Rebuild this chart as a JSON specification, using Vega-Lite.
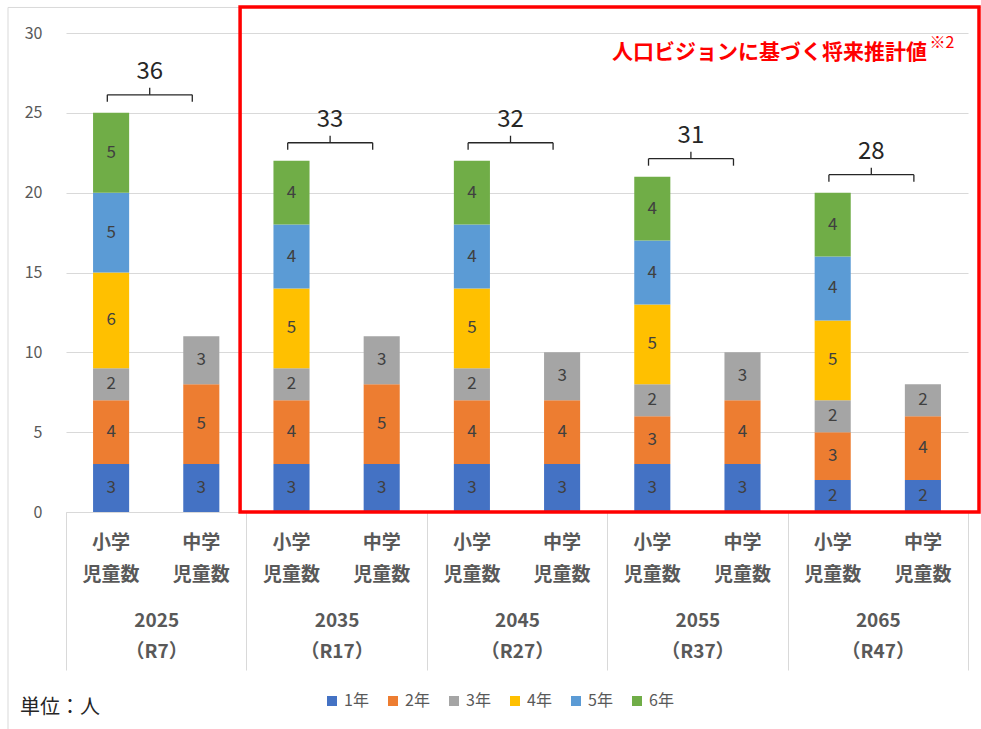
{
  "$schema": "https://vega.github.io/schema/vega-lite/v6.json",
  "autosize": "none",
  "width": 902,
  "height": 479,
  "padding": {"left": 66, "top": 33, "right": 13, "bottom": 217},
  "background": "white",
  "config": {"view": {"stroke": null}, "font": "Noto Sans CJK JP"},
  "datasets": {
    "main": [
      {"year": "2025", "school": "小学", "grade": "1年", "n": 3},
      {"year": "2025", "school": "小学", "grade": "2年", "n": 4},
      {"year": "2025", "school": "小学", "grade": "3年", "n": 2},
      {"year": "2025", "school": "小学", "grade": "4年", "n": 6},
      {"year": "2025", "school": "小学", "grade": "5年", "n": 5},
      {"year": "2025", "school": "小学", "grade": "6年", "n": 5},
      {"year": "2025", "school": "中学", "grade": "1年", "n": 3},
      {"year": "2025", "school": "中学", "grade": "2年", "n": 5},
      {"year": "2025", "school": "中学", "grade": "3年", "n": 3},
      {"year": "2035", "school": "小学", "grade": "1年", "n": 3},
      {"year": "2035", "school": "小学", "grade": "2年", "n": 4},
      {"year": "2035", "school": "小学", "grade": "3年", "n": 2},
      {"year": "2035", "school": "小学", "grade": "4年", "n": 5},
      {"year": "2035", "school": "小学", "grade": "5年", "n": 4},
      {"year": "2035", "school": "小学", "grade": "6年", "n": 4},
      {"year": "2035", "school": "中学", "grade": "1年", "n": 3},
      {"year": "2035", "school": "中学", "grade": "2年", "n": 5},
      {"year": "2035", "school": "中学", "grade": "3年", "n": 3},
      {"year": "2045", "school": "小学", "grade": "1年", "n": 3},
      {"year": "2045", "school": "小学", "grade": "2年", "n": 4},
      {"year": "2045", "school": "小学", "grade": "3年", "n": 2},
      {"year": "2045", "school": "小学", "grade": "4年", "n": 5},
      {"year": "2045", "school": "小学", "grade": "5年", "n": 4},
      {"year": "2045", "school": "小学", "grade": "6年", "n": 4},
      {"year": "2045", "school": "中学", "grade": "1年", "n": 3},
      {"year": "2045", "school": "中学", "grade": "2年", "n": 4},
      {"year": "2045", "school": "中学", "grade": "3年", "n": 3},
      {"year": "2055", "school": "小学", "grade": "1年", "n": 3},
      {"year": "2055", "school": "小学", "grade": "2年", "n": 3},
      {"year": "2055", "school": "小学", "grade": "3年", "n": 2},
      {"year": "2055", "school": "小学", "grade": "4年", "n": 5},
      {"year": "2055", "school": "小学", "grade": "5年", "n": 4},
      {"year": "2055", "school": "小学", "grade": "6年", "n": 4},
      {"year": "2055", "school": "中学", "grade": "1年", "n": 3},
      {"year": "2055", "school": "中学", "grade": "2年", "n": 4},
      {"year": "2055", "school": "中学", "grade": "3年", "n": 3},
      {"year": "2065", "school": "小学", "grade": "1年", "n": 2},
      {"year": "2065", "school": "小学", "grade": "2年", "n": 3},
      {"year": "2065", "school": "小学", "grade": "3年", "n": 2},
      {"year": "2065", "school": "小学", "grade": "4年", "n": 5},
      {"year": "2065", "school": "小学", "grade": "5年", "n": 4},
      {"year": "2065", "school": "小学", "grade": "6年", "n": 4},
      {"year": "2065", "school": "中学", "grade": "1年", "n": 2},
      {"year": "2065", "school": "中学", "grade": "2年", "n": 4},
      {"year": "2065", "school": "中学", "grade": "3年", "n": 2}
    ]
  },
  "layer": [
    {
      "data": {"name": "main"},
      "transform": [
        {"stack": "n", "groupby": ["year", "school"], "sort": [{"field": "grade", "order": "ascending"}], "as": ["s0", "s1"]}
      ],
      "mark": {"type": "bar"},
      "encoding": {
        "x": {
          "field": "year", "type": "nominal",
          "scale": {"type": "band", "domain": ["2025", "2035", "2045", "2055", "2065"], "paddingInner": 0, "paddingOuter": 0},
          "axis": {
            "title": null, "labelAngle": 0,
            "labelExpr": "datum.label ? [datum.label, '（R' + (toNumber(datum.label) - 2018) + '）'] : ''",
            "labelFontSize": 19, "labelFontWeight": "bold", "labelColor": "#595959",
            "labelLineHeight": 31, "labelBaseline": "middle", "labelPadding": -50,
            "tickSize": 158, "tickColor": "#d9d9d9", "tickBand": "extent",
            "domainColor": "#d9d9d9"
          }
        },
        "xOffset": {"field": "school", "type": "nominal", "scale": {"domain": ["小学", "中学"], "paddingInner": 0.6, "paddingOuter": 0.3}},
        "y": {
          "field": "s1", "type": "quantitative",
          "scale": {"domain": [0, 30], "nice": false},
          "axis": {"title": null, "values": [0, 5, 10, 15, 20, 25, 30], "domain": false, "ticks": false, "grid": true, "gridColor": "#d9d9d9", "labelFontSize": 16, "labelColor": "#595959", "labelPadding": 24}
        },
        "y2": {"field": "s0"},
        "color": {
          "field": "grade", "type": "nominal",
          "scale": {"domain": ["1年", "2年", "3年", "4年", "5年", "6年"], "range": ["#4472C4", "#ED7D31", "#A5A5A5", "#FFC000", "#5B9BD5", "#70AD47"]},
          "legend": {"title": null, "orient": "none", "legendX": 258, "legendY": 660, "direction": "horizontal", "symbolType": "square", "symbolSize": 100, "symbolStrokeWidth": 0, "labelFontSize": 16, "labelColor": "#595959", "columnPadding": 16, "labelOffset": 4}
        }
      }
    },
    {
      "data": {"name": "main"},
      "transform": [
        {"stack": "n", "groupby": ["year", "school"], "sort": [{"field": "grade", "order": "ascending"}], "as": ["s0", "s1"]},
        {"fold": ["s0", "s1"], "as": ["edge", "v"]},
        {"aggregate": [{"op": "mean", "field": "v", "as": "mid"}], "groupby": ["year", "school", "grade", "n"]}
      ],
      "mark": {"type": "text", "fontSize": 17, "color": "#404040", "baseline": "middle"},
      "encoding": {
        "x": {"field": "year", "type": "nominal"},
        "xOffset": {"field": "school", "type": "nominal"},
        "y": {"field": "mid", "type": "quantitative"},
        "text": {"field": "n", "type": "quantitative"}
      }
    },
    {
      "data": {"name": "main"},
      "transform": [
        {"aggregate": [{"op": "sum", "field": "n", "as": "s"}], "groupby": ["year", "school"]}
      ],
      "mark": {"type": "text", "text": {"expr": "[datum.school, '児童数']"}, "fontSize": 19, "fontWeight": "bold", "color": "#595959", "baseline": "middle", "lineHeight": 32, "dy": 31},
      "encoding": {
        "x": {"field": "year", "type": "nominal"},
        "xOffset": {"field": "school", "type": "nominal"},
        "y": {"datum": 0, "type": "quantitative"}
      }
    },
    {
      "data": {"name": "main"},
      "transform": [
        {"aggregate": [{"op": "sum", "field": "n", "as": "s"}], "groupby": ["year", "school"]},
        {"aggregate": [{"op": "max", "field": "s", "as": "top"}, {"op": "sum", "field": "s", "as": "total"}], "groupby": ["year"]}
      ],
      "layer": [
        {
          "mark": {"type": "rule", "color": "#262626", "strokeWidth": 1.3, "yOffset": -18},
          "encoding": {
            "x": {"field": "year", "type": "nominal", "bandPosition": 0.229},
            "x2": {"field": "year", "bandPosition": 0.7},
            "y": {"field": "top", "type": "quantitative"}
          }
        },
        {
          "mark": {"type": "rule", "color": "#262626", "strokeWidth": 1.3, "yOffset": -18, "y2Offset": -11},
          "encoding": {
            "x": {"field": "year", "type": "nominal", "bandPosition": 0.229},
            "y": {"field": "top", "type": "quantitative"},
            "y2": {"field": "top"}
          }
        },
        {
          "mark": {"type": "rule", "color": "#262626", "strokeWidth": 1.3, "yOffset": -18, "y2Offset": -11},
          "encoding": {
            "x": {"field": "year", "type": "nominal", "bandPosition": 0.7},
            "y": {"field": "top", "type": "quantitative"},
            "y2": {"field": "top"}
          }
        },
        {
          "mark": {"type": "rule", "color": "#262626", "strokeWidth": 1.3, "yOffset": -18, "y2Offset": -25},
          "encoding": {
            "x": {"field": "year", "type": "nominal", "bandPosition": 0.464},
            "y": {"field": "top", "type": "quantitative"},
            "y2": {"field": "top"}
          }
        },
        {
          "mark": {"type": "text", "fontSize": 24, "color": "#262626", "baseline": "middle", "dy": -41},
          "encoding": {
            "x": {"field": "year", "type": "nominal", "bandPosition": 0.464},
            "y": {"field": "top", "type": "quantitative"},
            "text": {"field": "total", "type": "quantitative"}
          }
        }
      ]
    },
    {
      "data": {"values": [{}]},
      "layer": [
        {
          "mark": {"type": "rect", "filled": false, "stroke": "#d9d9d9", "strokeWidth": 1},
          "encoding": {
            "x": {"datum": "2025", "type": "nominal", "bandPosition": -0.3215},
            "x2": {"datum": "2065", "bandPosition": 1.3},
            "y": {"datum": 31.6, "type": "quantitative"},
            "y2": {"datum": -14}
          }
        },
        {
          "mark": {"type": "rect", "filled": false, "stroke": "#FF0000", "strokeWidth": 3.5},
          "encoding": {
            "x": {"datum": "2035", "type": "nominal", "bandPosition": -0.035},
            "x2": {"datum": "2065", "bandPosition": 1.061},
            "y": {"datum": 31.63, "type": "quantitative"},
            "y2": {"datum": 0}
          }
        },
        {
          "mark": {"type": "text", "text": "人口ビジョンに基づく将来推計値", "fontSize": 21, "fontWeight": "bold", "color": "#FF0000", "align": "right", "baseline": "middle"},
          "encoding": {
            "x": {"datum": "2065", "type": "nominal", "bandPosition": 0.773},
            "y": {"datum": 28.75, "type": "quantitative"}
          }
        },
        {
          "mark": {"type": "text", "text": "※2", "fontSize": 16, "color": "#FF0000", "align": "left", "baseline": "middle"},
          "encoding": {
            "x": {"datum": "2065", "type": "nominal", "bandPosition": 0.786},
            "y": {"datum": 29.37, "type": "quantitative"}
          }
        },
        {
          "mark": {"type": "text", "text": "単位：人", "fontSize": 20, "color": "#262626", "align": "left", "baseline": "middle"},
          "encoding": {
            "x": {"datum": "2025", "type": "nominal", "bandPosition": -0.255},
            "y": {"datum": -12.25, "type": "quantitative"}
          }
        }
      ]
    }
  ]
}
